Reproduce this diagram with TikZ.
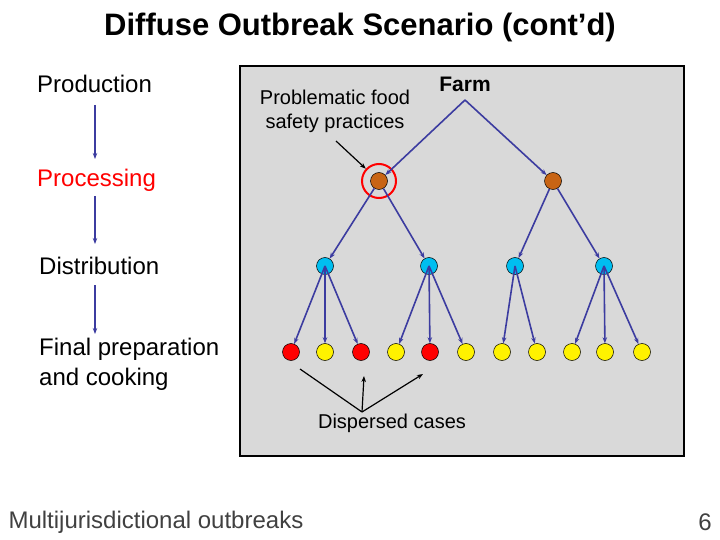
\documentclass[tikz,border=0pt]{standalone}
\usepackage{fontspec}
\setmainfont{Liberation Sans}
\usetikzlibrary{arrows.meta}
\begin{document}
\begin{tikzpicture}[x=1pt,y=-1pt,
  dot/.style={circle,draw=black,line width=0.5pt,minimum size=17pt,inner sep=0pt},
  br/.style={dot,fill={rgb,255:red,200;green,100;blue,20}},
  bl/.style={dot,fill={rgb,255:red,0;green,190;blue,240}},
  rd/.style={dot,fill=red},
  yl/.style={dot,fill=yellow},
  ed/.style={draw={rgb,255:red,60;green,60;blue,160},line width=1.6pt,-{Stealth[length=6pt]}},
  la/.style={draw=black,line width=1.2pt,-{Stealth[length=6pt]}},
  txt/.style={font=\fontsize{24}{30}\selectfont,inner sep=0pt}]
\useasboundingbox (0,0) rectangle (720,540);
\node[font=\bfseries\fontsize{31}{36}\selectfont] (title) at (360,27) {Diffuse Outbreak Scenario (cont’d)};
% left chain
\node[txt,anchor=west] (prod) at (37,84) {Production};
\node[txt,anchor=west,text=red] (proc) at (37,180) {Processing};
\node[txt,anchor=west] (dist) at (39,266) {Distribution};
\node[txt,anchor=north west,align=left] (fin) at (39,338) {Final preparation\\and cooking};
\coordinate (a1) at (95,105); \coordinate (a2) at (95,159);
\coordinate (b1) at (95,196); \coordinate (b2) at (95,244);
\coordinate (c1) at (95,285); \coordinate (c2) at (95,334);
\draw[ed] (a1) -- (a2); \draw[ed] (b1) -- (b2); \draw[ed] (c1) -- (c2);
% box
\draw[fill={rgb,255:red,217;green,217;blue,217},line width=1.5pt] (240,66) rectangle (684,456);
\node[font=\bfseries\fontsize{21}{24}\selectfont] (farm) at (465,84) {Farm};
\coordinate (apex) at (465,100);
\node[font=\fontsize{20}{24}\selectfont,align=center] (prob) at (335,111) {Problematic food\\safety practices};
\node[br] (f1) at (379,181) {};
\node[br] (f2) at (553,181) {};
\node[draw=red,line width=2pt,circle,minimum size=34pt] (ring) at (379,181) {};
\foreach \n/\x in {p1/325,p2/429,p3/515,p4/604} \node[bl] (\n) at (\x,266) {};
\foreach \n/\x/\s in {l1/291/rd,l2/325/yl,l3/361/rd,l4/396/yl,l5/430/rd,l6/466/yl,l7/502/yl,l8/537/yl,l9/572/yl,l10/605/yl,l11/642/yl}
  \node[\s] (\n) at (\x,352) {};
\draw[ed] (apex) -- (f1); \draw[ed] (apex) -- (f2);
\draw[ed] (f1) -- (p1); \draw[ed] (f1) -- (p2);
\draw[ed] (f2) -- (p3); \draw[ed] (f2) -- (p4);
\foreach \a/\b in {p1/l1,p1/l2,p1/l3,p2/l4,p2/l5,p2/l6,p3/l7,p3/l8,p4/l9,p4/l10,p4/l11}
  \draw[ed] (\a.center) -- (\b);
\coordinate (pa) at (336,141);
\draw[la] (pa) -- (ring);
\node[font=\fontsize{20}{24}\selectfont] (disp) at (392,423) {Dispersed cases};
\coordinate (dj) at (362,412);
\coordinate (t1) at (300,369); \coordinate (t2) at (364,376); \coordinate (t3) at (423,374);
\draw[line width=1.2pt] (dj) -- (t1);
\draw[la] (dj) -- (t2); \draw[la] (dj) -- (t3);
\node[font=\fontsize{24}{28}\selectfont,anchor=west,text=black!75] (foot) at (5,522) {Multijurisdictional outbreaks};
\node[font=\fontsize{24}{28}\selectfont,text=black!75] (num) at (705,522) {6};
\end{tikzpicture}
\end{document}
